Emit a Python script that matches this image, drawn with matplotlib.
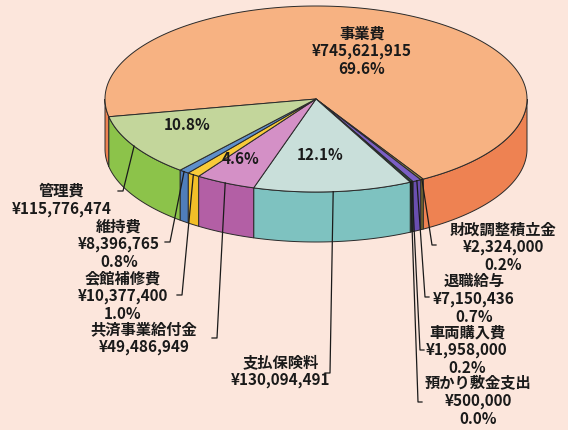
import numpy as np
import matplotlib.pyplot as plt
from matplotlib.patches import Polygon

plt.rcParams['font.family'] = ['Noto Sans CJK JP', 'DejaVu Sans']

# slices, clockwise from the start angle
names = ['事業費', '財政調整積立金', '退職給与', '車両購入費', '預かり敷金支出',
         '支払保険料', '共済事業給付金', '会館補修費', '維持費', '管理費']
amounts = [745621915, 2324000, 7150436, 1958000, 500000,
           130094491, 49486949, 10377400, 8396765, 115776474]

top_colors = ['#F7B282', '#9C8A3C', '#7B5FC4', '#2F5F3F', '#222222',
              '#C9DFDA', '#D490C6', '#F8CB3A', '#5E8FCB', '#C3D69B']
side_colors = ['#EE8252', '#857330', '#6A4FB0', '#234A30', '#111111',
               '#7EC2C0', '#B35FA5', '#F2BE28', '#4F7DBA', '#8CC34A']

# pie geometry (pixels)
cx, cy, rx, ry, depth = 316, 99, 211, 93, 50
start = 191.0

# outer label blocks: centre x, centre y, leader end x, leader end y, stub
label_pos = {
    '管理費': (62, 200, 123, 191, -5),
    '維持費': (119, 244, 170, 242, -5),
    '会館補修費': (123, 296, 182, 295, -5),
    '共済事業給付金': (144, 338, 217, 338, -5),
    '支払保険料': (281, 371, 330, 373, -5),
    '財政調整積立金': (503, 247, 432, 245, 4),
    '退職給与': (474, 299, 425, 297, 4),
    '車両購入費': (467, 350, 420, 350, 4),
    '預かり敷金支出': (478, 401, 418, 402, 4),
}
# names whose percentage sits on the pie top
inner_pct = {'事業費': None, '管理費': (187, 125), '共済事業給付金': (240, 159),
             '支払保険料': (320, 155)}


def pt(a, dz=0.0):
    t = np.radians(a)
    return cx + rx * np.cos(t), cy - ry * np.sin(t) + dz


def arc(a0, a1, dz=0.0):
    n = max(2, int(abs(a0 - a1) * 2) + 2)
    t = np.radians(np.linspace(a0, a1, n))
    return np.column_stack([cx + rx * np.cos(t), cy - ry * np.sin(t) + dz])


fig = plt.figure(figsize=(5.68, 4.30), dpi=100)
fig.patch.set_facecolor('#FCE6DC')
ax = fig.add_axes([0, 0, 1, 1])
ax.set_xlim(0, 568)
ax.set_ylim(430, 0)
ax.axis('off')

total = float(sum(amounts))
spans = [360.0 * v / total for v in amounts]
bounds = start - np.concatenate([[0], np.cumsum(spans)])

# side walls of the front half
for i in range(len(names)):
    a0, a1 = bounds[i], bounds[i + 1]
    for k in (-1, 0, 1):
        lo = max(a1, 180 + 360 * k)
        hi = min(a0, 360 + 360 * k)
        if lo < hi:
            top = arc(hi, lo)
            bot = arc(lo, hi, depth)
            ax.add_patch(Polygon(np.vstack([top, bot]), closed=True,
                                 facecolor=side_colors[i], edgecolor='#2a2a2a',
                                 lw=0.7, zorder=2))

# top faces
for i in range(len(names)):
    pts = np.vstack([[cx, cy], arc(bounds[i], bounds[i + 1])])
    ax.add_patch(Polygon(pts, closed=True, facecolor=top_colors[i],
                         edgecolor='#2a2a2a', lw=0.7, zorder=3))

# leader lines and labels
txt = dict(fontsize=11, fontweight='bold', color='#1a1a1a', ha='center',
           va='center', linespacing=1.12, zorder=6)
for i, name in enumerate(names):
    pct = 100.0 * amounts[i] / total
    mid = (bounds[i] + bounds[i + 1]) / 2
    if name in label_pos:
        lx, ly, ex, ey, stub = label_pos[name]
        ax_, ay_ = pt(mid)
        ax.plot([ax_, ex, ex + stub], [ay_, ey, ey], color='#1a1a1a', lw=0.9,
                zorder=5)
        lines = [name, f'¥{amounts[i]:,}']
        if name not in inner_pct:
            lines.append(f'{pct:.1f}%')
        ax.text(lx, ly, '\n'.join(lines), **txt)
    if name == '事業費':
        ax.text(362, 51, f'{name}\n¥{amounts[i]:,}\n{pct:.1f}%', **txt)
    elif name in inner_pct:
        px, py = inner_pct[name]
        ax.text(px, py, f'{pct:.1f}%', **txt)

fig.savefig('out.png', dpi=100, facecolor=fig.get_facecolor())
